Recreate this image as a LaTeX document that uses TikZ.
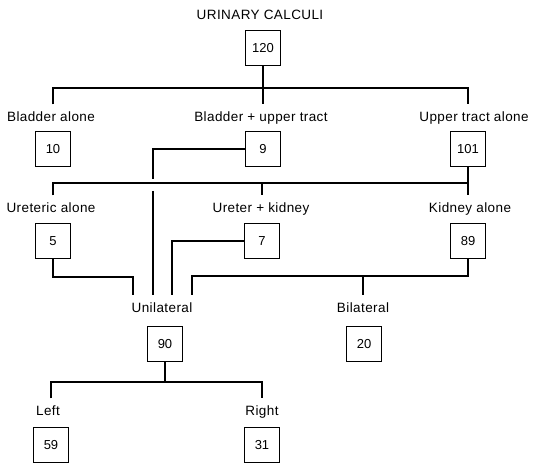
\documentclass[tikz,border=0pt]{standalone}
\usepackage{fontspec}
\setmainfont{Liberation Sans}
\newfontfamily\spacedfont{Liberation Sans}[LetterSpace=3]
\usetikzlibrary{positioning,calc}

\tikzset{
	countbox/.style={draw, line width=0.8pt, minimum width=35pt, minimum height=35pt, inner sep=0pt, font=\fontsize{13}{15}\selectfont},
	grouplabel/.style={inner sep=2pt, text height=10pt, text depth=3pt, font=\spacedfont\fontsize{13.5}{16}\selectfont},
	link/.style={line width=1.5pt},
}

\begin{document}
\begin{tikzpicture}[x=1pt,y=-1pt]
		\useasboundingbox (0,0) rectangle (536,465);
		
		\node[grouplabel] (title) at (260,16) {URINARY CALCULI};
		\node[countbox] (n120) at (263,48) {120};
		
		\node[grouplabel] (bladder) at (51,118) {Bladder alone};
		\node[grouplabel] (both) at (261,118) {Bladder + upper tract};
		\node[grouplabel] (upper) at (474,118) {Upper tract alone};
		\node[countbox] (n10) at (53,149) {10};
		\node[countbox] (n9) at (263,149) {9};
		\node[countbox] (n101) at (468,149) {101};
		
		\node[grouplabel] (ureteric) at (51,209) {Ureteric alone};
		\node[grouplabel] (ureter) at (261,209) {Ureter + kidney};
		\node[grouplabel] (kidney) at (470,209) {Kidney alone};
		\node[countbox] (n5) at (53,241) {5};
		\node[countbox] (n7) at (262,241) {7};
		\node[countbox] (n89) at (468,241) {89};
		
		\node[grouplabel] (uni) at (162,309) {Unilateral};
		\node[grouplabel] (bi) at (363,309) {Bilateral};
		\node[countbox] (n90) at (165,344) {90};
		\node[countbox] (n20) at (364,344) {20};
		
		\node[grouplabel] (leftside) at (48,412) {Left};
		\node[grouplabel] (rightside) at (262,412) {Right};
		\node[countbox] (n59) at (51,445) {59};
		\node[countbox] (n31) at (262,445) {31};
		
		\coordinate (bus1) at ($(n120.south)+(0,22)$);
		\coordinate (bus2) at ($(n101.south)+(0,16)$);
		\coordinate (bus4) at ($(n90.south)+(0,20)$);
		\coordinate (u1) at ([xshift=-29pt]uni.north);
		\coordinate (u2) at ([xshift=-9pt]uni.north);
		\coordinate (u3) at ([xshift=10pt]uni.north);
		\coordinate (u4) at ([xshift=30pt]uni.north);
		
		\draw[link, shorten >=5pt] (n120) -- (n9 |- both.north);
		\draw[link, shorten <=5pt, shorten >=5pt] (n10 |- bladder.north) |- (bus1) -| (n101 |- upper.north);
		
		\draw[link] (n9.west) -| ($(u2 |- bus2)+(0,-4)$);
		\draw[link, shorten >=5pt] ($(u2 |- bus2)+(0,8)$) -- (u2);
		
		\draw[link, shorten >=5pt] (n101) -- (n101 |- kidney.north);
		\draw[link, shorten <=5pt] (n5 |- ureteric.north) |- (bus2);
		\draw[link, shorten >=5pt] (n7 |- bus2) -- (n7 |- ureter.north);
		
		\draw[link, shorten >=5pt] (n5.south) -- ++(0,18) -| (u1);
		\draw[link, shorten >=5pt] (n7.west) -| (u3);
		\draw[link, shorten >=5pt] (n89.south) -- ++(0,17) coordinate (bus3) -| (u4);
		\draw[link, shorten >=5pt] (bus3 -| bi) -- (bi.north);
		
		\draw[link] (n90) -- (bus4);
		\draw[link, shorten <=5pt, shorten >=5pt] (n59 |- leftside.north) |- (bus4) -| (n31 |- rightside.north);
	\end{tikzpicture}
\end{document}
